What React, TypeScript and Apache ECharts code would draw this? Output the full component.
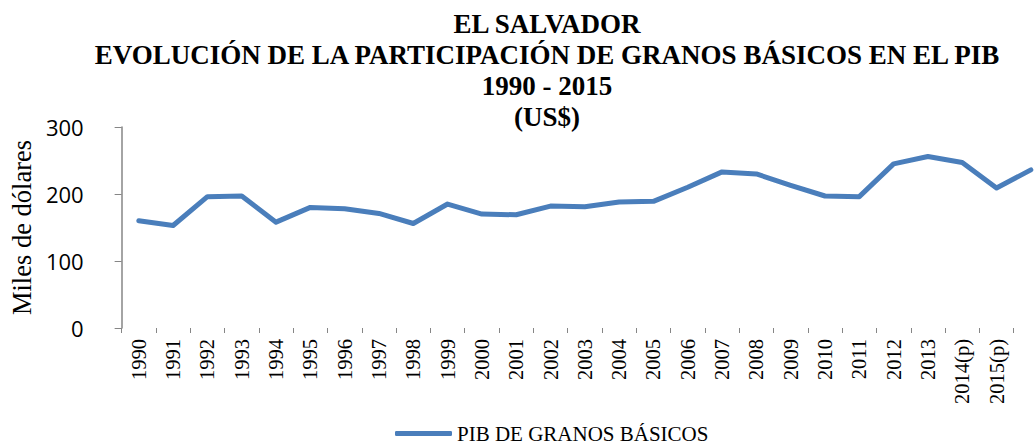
import React, { useEffect, useRef } from "react";
import * as echarts from "echarts";

const categories = [
  "1990", "1991", "1992", "1993", "1994", "1995", "1996", "1997", "1998", "1999",
  "2000", "2001", "2002", "2003", "2004", "2005", "2006", "2007", "2008", "2009",
  "2010", "2011", "2012", "2013", "2014(p)", "2015(p)", "",
];
const pibGranosBasicos = [
  160, 153, 196, 197, 158, 180, 178, 171, 156, 185,
  170, 169, 182, 181, 188, 189, 210, 233, 230, 213,
  197, 196, 245, 256, 247, 209, 236,
];
const seriesName = "PIB DE GRANOS BÁSICOS";
const titleLines = [
  "EL SALVADOR",
  "EVOLUCIÓN DE LA PARTICIPACIÓN DE GRANOS BÁSICOS EN EL PIB",
  "1990 - 2015",
  "(US$)",
];
const yAxisName = "Miles de dólares";

export default function App() {
  const ref = useRef<HTMLDivElement>(null);
  useEffect(() => {
    if (!ref.current) return;
    const chart = echarts.init(ref.current, null, { renderer: "svg" });
    const serif = "'Liberation Serif', 'Times New Roman', serif";
    chart.setOption({
      animation: false,
      backgroundColor: "#ffffff",
      title: {
        text: titleLines.join("\n"),
        left: 547,
        top: 8,
        textAlign: "center",
        padding: 0,
        textStyle: {
          fontFamily: serif,
          fontWeight: "bold",
          fontSize: 27,
          lineHeight: 31,
          color: "#000",
        },
      },
      legend: {
        left: 395,
        top: 423,
        padding: 0,
        itemWidth: 57,
        itemHeight: 5,
        icon: "roundRect",
        data: [seriesName],
        textStyle: { fontFamily: serif, fontSize: 21, color: "#000" },
      },
      grid: { left: 109, top: 127, bottom: 116, right: 32 },
      xAxis: {
        type: "category",
        data: categories,
        boundaryGap: true,
        axisLine: {
          lineStyle: {
            color: "#868686",
            width: 1.5,
            shadowColor: "rgba(0,0,0,0.45)",
            shadowBlur: 4,
            shadowOffsetY: 2,
          },
        },
        axisTick: { show: true, interval: 0, length: 5, lineStyle: { color: "#868686" } },
        axisLabel: {
          interval: 0,
          rotate: 90,
          margin: 11,
          fontFamily: serif,
          fontSize: 20.5,
          color: "#000",
        },
      },
      yAxis: {
        type: "value",
        min: 0,
        max: 300,
        interval: 100,
        name: yAxisName,
        nameLocation: "middle",
        nameGap: 86,
        nameTextStyle: { fontFamily: serif, fontSize: 26.5, color: "#000" },
        axisLine: { show: true, lineStyle: { color: "#868686", width: 1.5 } },
        axisTick: { show: true, length: 7, lineStyle: { color: "#868686" } },
        axisLabel: {
          margin: 38,
          fontFamily: "'Open Sans', 'Liberation Sans', sans-serif",
          fontSize: 22,
          color: "#000",
        },
        splitLine: { show: false },
      },
      series: [
        {
          name: seriesName,
          type: "line",
          data: pibGranosBasicos,
          symbol: "none",
          color: "#4a7ebb",
          lineStyle: { color: "#4a7ebb", width: 5, cap: "round", join: "round" },
        },
      ],
    });
    return () => chart.dispose();
  }, []);
  return (
    <div
      style={{
        position: "absolute",
        left: 0,
        top: 0,
        width: 1036,
        height: 444,
        overflow: "hidden",
        background: "#fff",
      }}
    >
      <div ref={ref} style={{ width: 1080, height: 444 }} />
    </div>
  );
}
